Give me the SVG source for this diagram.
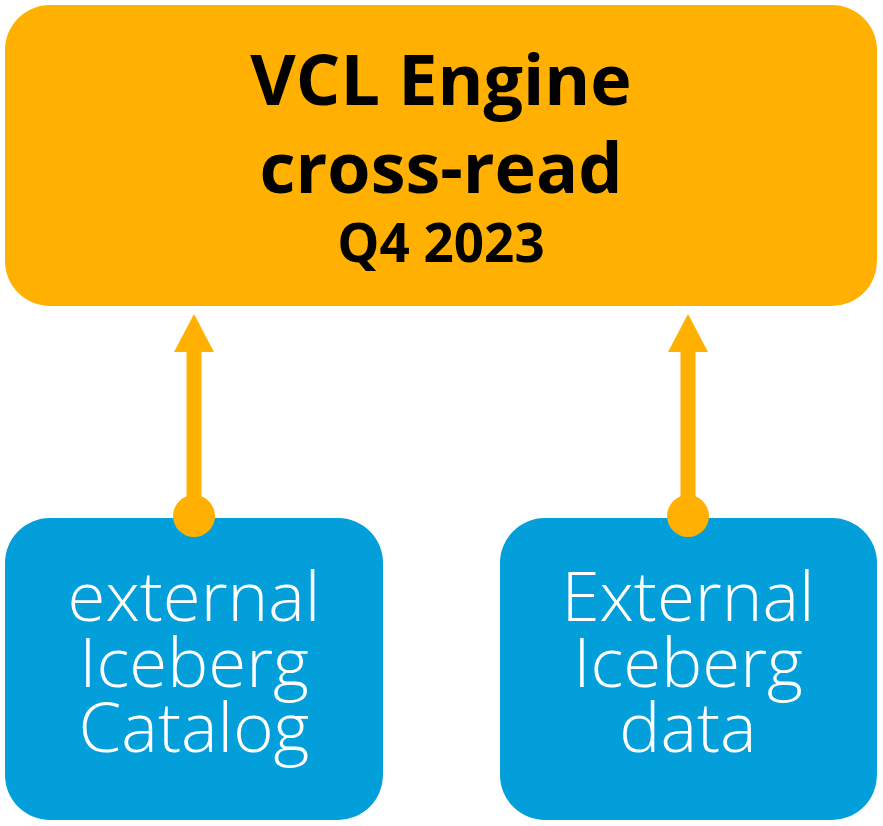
<svg xmlns="http://www.w3.org/2000/svg" width="883" height="826" viewBox="0 0 883 826">
<defs>
<style>
.top{fill:#FFB000}
.bot{fill:#039FDA}
.t1{font-family:"Open Sans","Noto Sans",sans-serif;font-weight:700;fill:#000;text-anchor:middle}
.t2{font-family:"Open Sans","Noto Sans",sans-serif;font-weight:300;fill:#fff;text-anchor:middle;font-size:69px}
.conn{stroke:#FFB000;stroke-width:15;fill:none}
.dot{fill:#FFB000}
</style>
<marker id="ah" markerUnits="userSpaceOnUse" markerWidth="44" markerHeight="40" refX="0" refY="21" orient="auto" viewBox="0 0 40 42">
<path d="M0,0 L40,21 L0,42 Z" fill="#FFB000"/>
</marker>
</defs>
<g id="engine">
<rect class="top" x="5" y="5" width="872" height="301" rx="45"/>
<text class="t1" x="441" y="105" font-size="70">VCL Engine</text>
<text class="t1" x="441" y="193" font-size="70">cross-read</text>
<text class="t1" x="441" y="262" font-size="53">Q4 2023</text>
</g>
<g id="catalog">
<rect class="bot" x="5" y="518" width="378" height="302" rx="45"/>
<text class="t2" x="194" y="621">external</text>
<text class="t2" x="194" y="687">Iceberg</text>
<text class="t2" x="194" y="752">Catalog</text>
</g>
<g id="data">
<rect class="bot" x="500" y="518" width="377" height="302" rx="45"/>
<text class="t2" x="688" y="621">External</text>
<text class="t2" x="688" y="687">Iceberg</text>
<text class="t2" x="688" y="752">data</text>
</g>
<g id="connectors">
<line class="conn" x1="194" y1="516" x2="194" y2="352" marker-end="url(#ah)"/>
<circle class="dot" cx="194" cy="516" r="21"/>
<line class="conn" x1="688" y1="516" x2="688" y2="352" marker-end="url(#ah)"/>
<circle class="dot" cx="688" cy="516" r="21"/>
</g>
</svg>
